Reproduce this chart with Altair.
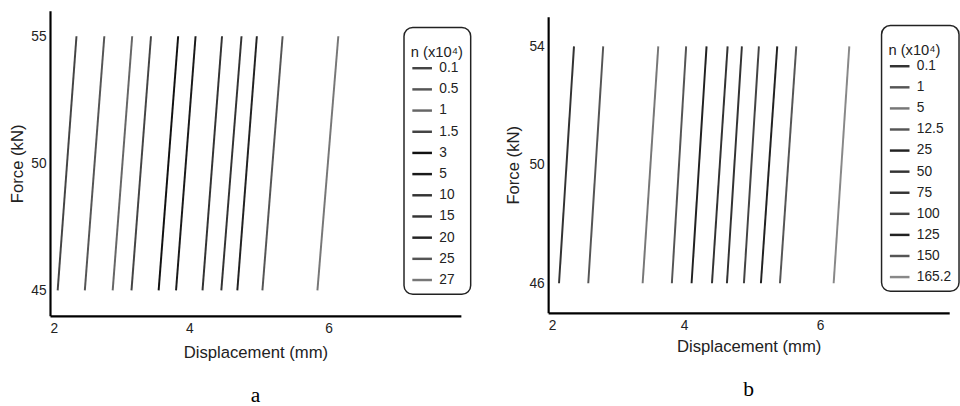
import altair as alt
import pandas as pd

# ---- data ----
labels_a = ["0.1", "0.5", "1", "1.5", "3", "5", "10", "15", "20", "25", "27"]
x_bottom_a = [2.11, 2.50, 2.90, 3.17, 3.56, 3.81, 4.19, 4.46, 4.69, 5.05, 5.84]
x_top_a = [2.38, 2.78, 3.18, 3.45, 3.84, 4.09, 4.47, 4.75, 4.97, 5.34, 6.14]
force_a = [45, 55]
colors_a = ["#444444", "#555555", "#666666", "#444444", "#111111", "#1a1a1a",
            "#333333", "#333333", "#222222", "#555555", "#777777"]

labels_b = ["0.1", "1", "5", "12.5", "25", "50", "75", "100", "125", "150", "165.2"]
x_bottom_b = [2.16, 2.59, 3.39, 3.82, 4.11, 4.41, 4.63, 4.88, 5.13, 5.41, 6.20]
x_top_b = [2.38, 2.81, 3.62, 4.03, 4.33, 4.64, 4.85, 5.10, 5.37, 5.65, 6.43]
force_b = [46, 54]
colors_b = ["#333333", "#555555", "#777777", "#555555", "#222222", "#333333",
            "#333333", "#444444", "#222222", "#555555", "#888888"]

legend_title = [" ", "n (x10⁴)"]


def make_df(labels, xb, xt, force):
    rows = []
    for i, lab in enumerate(labels):
        rows.append({"n": lab, "order": i, "disp": xb[i], "force": force[0]})
        rows.append({"n": lab, "order": i, "disp": xt[i], "force": force[1]})
    return pd.DataFrame(rows)


FONT = "Liberation Sans"


def panel(df, labels, colors, xdom, ydom, yticks, w, h, lx, ly, caption,
          cap_offset, ytitle_pad, xtitle_pad, row_pad):
    return alt.Chart(df).mark_line(strokeWidth=2).encode(
        x=alt.X("disp:Q", title="Displacement (mm)",
                scale=alt.Scale(domain=xdom, nice=False, zero=False),
                axis=alt.Axis(values=[2, 4, 6], grid=False, ticks=False,
                              domainColor="black", domainWidth=2.2,
                              labelPadding=6, titlePadding=xtitle_pad)),
        y=alt.Y("force:Q", title="Force (kN)",
                scale=alt.Scale(domain=ydom, nice=False, zero=False),
                axis=alt.Axis(values=yticks, grid=False, ticks=False,
                              domainColor="black", domainWidth=2.2,
                              labelPadding=4, titlePadding=ytitle_pad)),
        color=alt.Color("n:N", sort=labels,
                        scale=alt.Scale(domain=labels, range=colors),
                        legend=alt.Legend(title=legend_title, orient="none",
                                          legendX=lx, legendY=ly,
                                          rowPadding=row_pad)),
        detail="order:O",
    ).properties(
        width=w, height=h,
        title=alt.TitleParams(caption, orient="bottom", font="Liberation Serif",
                              fontSize=22, fontWeight="normal", offset=cap_offset,
                              color="black"),
    )


chart_a = panel(make_df(labels_a, x_bottom_a, x_top_a, force_a), labels_a, colors_a,
                [2, 7.9], [44, 56], [45, 50, 55], 419, 311, 361, 17, "a", 25, 4, 10, 2.6)
chart_b = panel(make_df(labels_b, x_bottom_b, x_top_b, force_b), labels_b, colors_b,
                [2, 7.9], [45, 55], [46, 50, 54], 409, 302, 340, 9, "b", 26, 7, 6, 2.5)

chart = alt.hconcat(chart_a, chart_b, spacing=33, center=True).resolve_scale(
    color="independent"
).resolve_legend(color="independent").properties(
    padding={"left": 9, "top": 7, "right": 0, "bottom": 0},
    background="white",
).configure_view(stroke=None).configure_axis(
    labelFont=FONT, titleFont=FONT, labelFontSize=14, titleFontSize=17,
    titleFontWeight="normal", labelColor="#222222", titleColor="#222222"
).configure_legend(
    labelFont=FONT, titleFont=FONT, labelFontSize=14, titleFontSize=15,
    titleFontWeight="normal", titleColor="#222222", labelColor="#222222",
    titleLineHeight=11,
    symbolType="stroke", symbolSize=400, symbolStrokeWidth=2.5,
    padding=7, cornerRadius=9, strokeColor="#222222",
    strokeWidth=1.5, fillColor="white", labelOffset=6, titlePadding=-3
)

chart.save("out.html", embed_options={"renderer": "svg", "actions": False})
